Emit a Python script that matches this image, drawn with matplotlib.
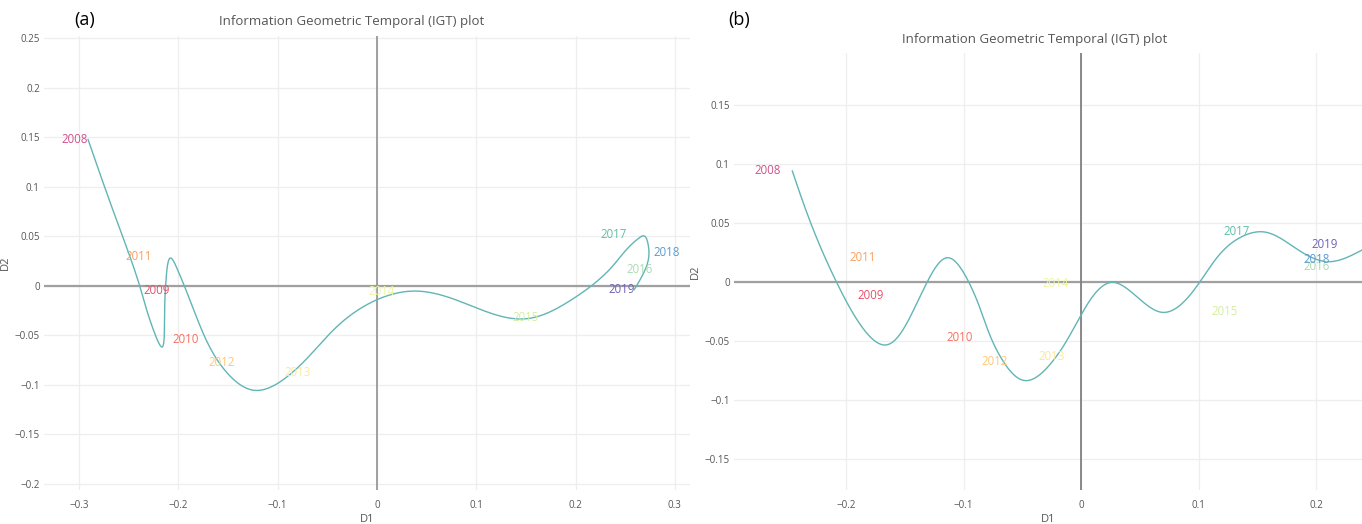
import numpy as np
import matplotlib
matplotlib.use("Agg")
import matplotlib.pyplot as plt
from matplotlib.ticker import FuncFormatter

# ---------------- data ----------------
years = ["2008", "2009", "2010", "2011", "2012", "2013", "2014",
         "2015", "2016", "2017", "2018", "2019"]
year_colors = ["#d0508a", "#e8506a", "#f47060", "#f9a060", "#fdc878", "#fde79a",
               "#eef5a0", "#d4eea0", "#a8dcb0", "#5fbfa8", "#5a9ad0", "#7060b8"]

# panel (a): year label positions
a_lab_x = [-0.304, -0.222, -0.193, -0.240, -0.157, -0.080, 0.0045,
           0.150, 0.264, 0.2386, 0.292, 0.246]
a_lab_y = [0.148, -0.0047, -0.0545, 0.0296, -0.078, -0.0875, -0.0057,
           -0.032, 0.0168, 0.0519, 0.034, -0.004]
# panel (a): trajectory knots
a_curve_x = [-0.291, -0.265, -0.239, -0.225, -0.2165, -0.2140, -0.2125, -0.2075,
             -0.2007, -0.178, -0.151, -0.124, -0.088, -0.0383, 0.0, 0.036,
             0.079, 0.151, 0.196, 0.237, 0.2635, 0.2685, 0.2730, 0.2715, 0.259]
a_curve_y = [0.148, 0.074, 0.0, -0.045, -0.062, -0.040, 0.005, 0.028,
             0.016, -0.041, -0.088, -0.1057, -0.090, -0.0394, -0.0141, -0.0054,
             -0.0141, -0.0333, -0.0141, 0.0195, 0.0480, 0.0505, 0.042, 0.020, -0.004]

# panel (b): year label positions
b_lab_x = [-0.267, -0.1793, -0.1037, -0.1863, -0.0739, -0.0249, -0.0221,
           0.1218, 0.1997, 0.1323, 0.2002, 0.2065]
b_lab_y = [0.0943, -0.0116, -0.0472, 0.0209, -0.067, -0.0633, -0.0011,
           -0.0252, 0.013, 0.0426, 0.0192, 0.0319]
# panel (b): trajectory knots
b_curve_x = [-0.2458, -0.2082, -0.1665, -0.131, -0.1133, -0.0957, -0.0688,
             -0.0476, -0.0235, 0.0006, 0.026, 0.0685, 0.101, 0.1294,
             0.1535, 0.1804, 0.2101, 0.2387]
b_curve_y = [0.0943, 0.0, -0.0534, 0.0, 0.0206, 0.0, -0.0633,
             -0.0836, -0.0661, -0.0265, -0.0003, -0.0257, 0.0003, 0.0342,
             0.0426, 0.0299, 0.0172, 0.0271]

a_xticks = [-0.3, -0.2, -0.1, 0, 0.1, 0.2, 0.3]
a_yticks = [-0.2, -0.15, -0.1, -0.05, 0, 0.05, 0.1, 0.15, 0.2, 0.25]
b_xticks = [-0.2, -0.1, 0, 0.1, 0.2]
b_yticks = [-0.15, -0.1, -0.05, 0, 0.05, 0.1, 0.15]

title = "Information Geometric Temporal (IGT) plot"

# ---------------- drawing ----------------
plt.rcParams['font.family'] = ['Open Sans', 'DejaVu Sans']

W, H = 1362, 524
fig = plt.figure(figsize=(W / 100, H / 100), dpi=100)
fig.patch.set_facecolor("white")


def smooth(xs, ys, n=30):
    """Natural cubic spline (chord-length parameter) through the knots."""
    P = np.column_stack([xs, ys]).astype(float)
    d = np.linalg.norm(np.diff(P, axis=0), axis=1)
    t = np.concatenate([[0.0], np.cumsum(d)])
    N = len(t)
    h = np.diff(t)
    A = np.zeros((N, N))
    A[0, 0] = A[-1, -1] = 1.0
    for i in range(1, N - 1):
        A[i, i - 1] = h[i - 1]
        A[i, i] = 2 * (h[i - 1] + h[i])
        A[i, i + 1] = h[i]
    res = []
    for k in range(2):
        y = P[:, k]
        r = np.zeros(N)
        for i in range(1, N - 1):
            r[i] = 6 * ((y[i + 1] - y[i]) / h[i] - (y[i] - y[i - 1]) / h[i - 1])
        M = np.linalg.solve(A, r)
        seg = []
        for i in range(N - 1):
            s = np.linspace(t[i], t[i + 1], n, endpoint=(i == N - 2))
            a = t[i + 1] - s
            b = s - t[i]
            seg.append(M[i] * a ** 3 / (6 * h[i]) + M[i + 1] * b ** 3 / (6 * h[i])
                       + (y[i] / h[i] - M[i] * h[i] / 6) * a
                       + (y[i + 1] / h[i] - M[i + 1] * h[i] / 6) * b)
        res.append(np.concatenate(seg))
    return res[0], res[1]


def fmt(v, pos):
    if abs(v) < 1e-12:
        return "0"
    s = f"{v:.2f}".rstrip("0").rstrip(".")
    return s.replace("-", "\u2212")


def panel(rect, xlim, ylim, xticks, yticks, cx, cy, lx, ly, vcol):
    ax = fig.add_axes(rect)
    ax.set_xlim(*xlim)
    ax.set_ylim(*ylim)
    for s in ax.spines.values():
        s.set_visible(False)
    ax.set_xticks(xticks)
    ax.set_yticks(yticks)
    ax.xaxis.set_major_formatter(FuncFormatter(fmt))
    ax.yaxis.set_major_formatter(FuncFormatter(fmt))
    ax.tick_params(length=0, labelsize=7, colors="#555555")
    ax.tick_params(axis="y", pad=3)
    ax.tick_params(axis="x", pad=7)
    ax.grid(True, color="#eeeeee", lw=0.9)
    ax.set_axisbelow(True)
    ax.axhline(0, color="#a0a0a0", lw=1.6, zorder=1)
    ax.axvline(0, color=vcol, lw=1.3, zorder=1)
    sx, sy = smooth(cx, cy)
    ax.plot(sx, sy, color="#62b5b5", lw=1.0, zorder=2, solid_capstyle="round")
    for yr, c, x, y in zip(years, year_colors, lx, ly):
        ax.text(x, y, yr, color=c, fontsize=8.3, ha="center", va="center", zorder=3)
    ax.set_xlabel("D1", fontsize=8, color="#555555", labelpad=2)
    ax.set_ylabel("D2", fontsize=8, color="#555555", labelpad=3)
    return ax


def frac(l, r, t, b):
    return [l / W, 1 - b / H, (r - l) / W, (b - t) / H]


# panel (a)
ax_a = panel(frac(44, 690, 36, 490), (-0.3353, 0.3152), (-0.2065, 0.2525),
             a_xticks, a_yticks, a_curve_x, a_curve_y, a_lab_x, a_lab_y, "#999999")
# panel (b)
ax_b = panel(frac(734, 1362, 53, 490), (-0.2953, 0.2387), (-0.1763, 0.1941),
             b_xticks, b_yticks, b_curve_x, b_curve_y, b_lab_x, b_lab_y, "#808080")

fig.text(352 / W, 1 - 22 / H, title, fontsize=9.5, color="#555555", ha="center", va="center")
fig.text(1035 / W, 1 - 40 / H, title, fontsize=9.5, color="#555555", ha="center", va="center")
fig.text(85 / W, 1 - 20 / H, "(a)", fontsize=13, color="black", ha="center", va="center")
fig.text(739 / W, 1 - 20 / H, "(b)", fontsize=13, color="black", ha="center", va="center")

fig.savefig("out.png", dpi=100, facecolor="white")
